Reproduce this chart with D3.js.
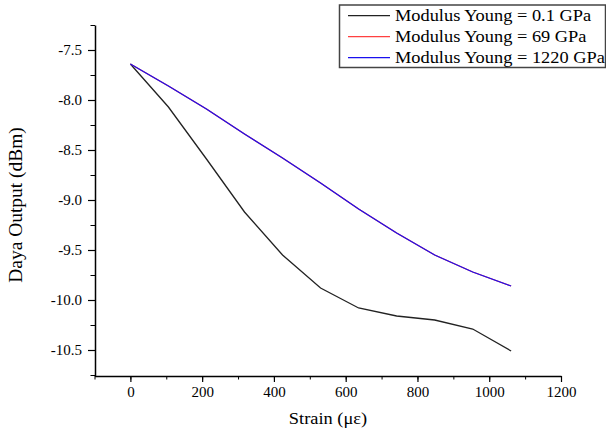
<!DOCTYPE html>
<html>
<head>
<meta charset="utf-8">
<script src="https://cdn.jsdelivr.net/npm/d3@7"></script>
<style>
  body { margin: 0; background: #fff; }
</style>
</head>
<body>
<script>
// Strain values (microstrain)
var strain = [0, 106, 212, 318, 424, 530, 636, 742, 848, 954, 1061];

// Output power (dBm) for each modulus
var young01 = [-7.64, -8.07, -8.59, -9.12, -9.55, -9.88, -10.08, -10.16, -10.20, -10.29, -10.51];
var young69 = [-7.64, -7.86, -8.09, -8.34, -8.58, -8.83, -9.09, -9.33, -9.55, -9.72, -9.86];
var young1220 = [-7.64, -7.86, -8.09, -8.34, -8.58, -8.83, -9.09, -9.33, -9.55, -9.72, -9.86];

var seriesNames = ["Modulus Young = 0.1 GPa", "Modulus Young = 69 GPa", "Modulus Young = 1220 GPa"];
var seriesColors = ["#222222", "#ff4040", "#1a10ee"];

var xTicks = [0, 200, 400, 600, 800, 1000, 1200];
var yTicks = [-7.5, -8.0, -8.5, -9.0, -9.5, -10.0, -10.5];

var serif = "Liberation Serif";
var width = 606, height = 430;

var svg = d3.select("body").append("svg")
    .attr("width", width)
    .attr("height", height);

var x = d3.scaleLinear().domain([-100, 1200]).range([94.5, 561]);
var y = d3.scaleLinear().domain([-10.76, -7.25]).range([376, 25]);

// the original text is a bit wider than plain Times
function stretch(sel, k) {
    sel.each(function() {
        var len = this.getComputedTextLength();
        d3.select(this).attr("textLength", len * k).attr("lengthAdjust", "spacingAndGlyphs");
    });
}

// minor ticks
svg.append("g")
    .attr("transform", "translate(0,376)")
    .call(d3.axisBottom(x).tickValues(d3.range(-100, 1201, 100)).tickSize(3.5).tickFormat(""))
    .call(g => g.select(".domain").remove());
svg.append("g")
    .attr("transform", "translate(95,0)")
    .call(d3.axisLeft(y).tickValues(d3.range(-10.75, -7.2, 0.25)).tickSize(4.5).tickFormat(""))
    .call(g => g.select(".domain").remove());

// major axes
var xAxis = svg.append("g")
    .attr("transform", "translate(0,376)")
    .call(d3.axisBottom(x).tickValues(xTicks).tickSize(6).tickPadding(4.5).tickSizeOuter(0).tickFormat(d3.format("d")));
var yAxis = svg.append("g")
    .attr("transform", "translate(95,0)")
    .call(d3.axisLeft(y).tickValues(yTicks).tickSize(7).tickPadding(6).tickSizeOuter(0).tickFormat(d3.format(".1f")));

[xAxis, yAxis].forEach(function(g) {
    g.attr("font-family", serif);
    g.selectAll("text").style("font-family", serif).style("font-size", "15px");
    g.selectAll("line").attr("stroke", "#000").attr("stroke-width", 1.2);
    g.select(".domain").attr("stroke", "#000").attr("stroke-width", 1.5);
});
// use a plain hyphen like the original
yAxis.selectAll("text").text(function(d) { return "-" + d3.format(".1f")(Math.abs(d)); });

// lines
var line = d3.line()
    .x(function(d) { return x(d[0]); })
    .y(function(d) { return y(d[1]); });

[young01, young69, young1220].forEach(function(vals, i) {
    svg.append("path")
        .datum(strain.map(function(s, j) { return [s, vals[j]]; }))
        .attr("fill", "none")
        .attr("stroke", seriesColors[i])
        .attr("stroke-width", 1.3)
        .attr("d", line);
});

// axis titles
svg.append("text")
    .attr("x", 328).attr("y", 424)
    .attr("text-anchor", "middle")
    .style("font-family", serif)
    .style("font-size", "17px")
    .text("Strain (με)")
    .call(stretch, 1.08);

svg.append("text")
    .attr("transform", "translate(22,205) rotate(-90)")
    .attr("text-anchor", "middle")
    .style("font-family", serif)
    .style("font-size", "18px")
    .text("Daya Output (dBm)")
    .call(stretch, 1.08);

// legend
var legend = svg.append("g");
legend.append("rect")
    .attr("x", 339.5).attr("y", 5)
    .attr("width", 266).attr("height", 62.5)
    .attr("fill", "#fff")
    .attr("stroke", "#444")
    .attr("stroke-width", 1.5);

seriesNames.forEach(function(name, i) {
    var ly = 15.7 + i * 21;
    legend.append("line")
        .attr("x1", 348).attr("x2", 390)
        .attr("y1", ly).attr("y2", ly)
        .attr("stroke", seriesColors[i])
        .attr("stroke-width", 1.3);
    legend.append("text")
        .attr("x", 395).attr("y", ly + 5.5)
        .style("font-family", serif)
        .style("font-size", "17px")
        .text(name)
        .call(stretch, 1.08);
});
</script>
</body>
</html>
